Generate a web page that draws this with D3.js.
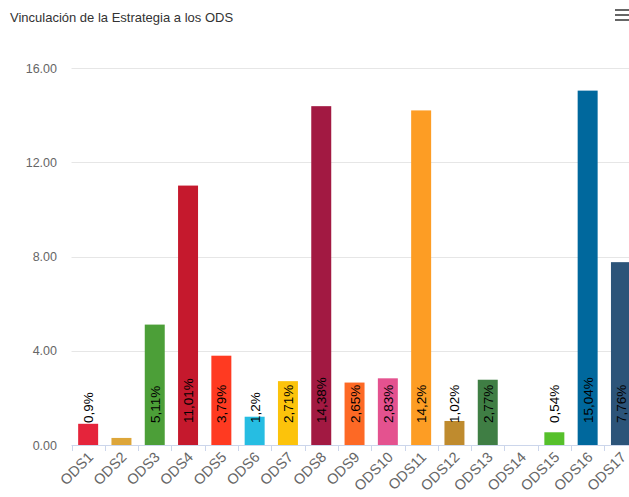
<!DOCTYPE html>
<html>
<head>
<meta charset="utf-8">
<script src="https://cdn.jsdelivr.net/npm/d3@7"></script>
<style>
  body { margin: 0; background: #fff; overflow: hidden; }
  svg { font-family: "Liberation Sans", Arial, sans-serif; display: block; }
</style>
</head>
<body>
<div id="chart"></div>
<script>
const width = 629;
const height = 497;

// Data
const categories = ["ODS1", "ODS2", "ODS3", "ODS4", "ODS5", "ODS6", "ODS7", "ODS8", "ODS9",
    "ODS10", "ODS11", "ODS12", "ODS13", "ODS14", "ODS15", "ODS16", "ODS17"];
const values = [0.9, 0.3, 5.11, 11.01, 3.79, 1.2, 2.71, 14.38, 2.65, 2.83, 14.2, 1.02, 2.77, 0, 0.54, 15.04, 7.76];
const labels = ["0,9%", "", "5,11%", "11,01%", "3,79%", "1,2%", "2,71%", "14,38%", "2,65%", "2,83%",
    "14,2%", "1,02%", "2,77%", "", "0,54%", "15,04%", "7,76%"];
const colors = ["#e5243b", "#dda63a", "#4c9f38", "#c5192d", "#ff3a21", "#26bde2", "#fcc30b", "#a21942",
    "#fd6925", "#e4528f", "#fd9d24", "#bf8b2e", "#3f7e44", "#0a97d9", "#56c02b", "#00689d", "#2c5479"];
const yTicks = [0, 4, 8, 12, 16];

const plotLeft = 71.5;
const plotTop = 68;
const plotBottom = 445;
const step = 33.3;

const svg = d3.select("#chart")
    .append("svg")
    .attr("width", width)
    .attr("height", height);

const x = d3.scaleBand()
    .domain(categories)
    .range([plotLeft, plotLeft + step * categories.length])
    .paddingInner(0.4)
    .paddingOuter(0.2);

const y = d3.scaleLinear()
    .domain([0, 16])
    .range([plotBottom, plotTop]);

// title
svg.append("text")
    .attr("x", 10)
    .attr("y", 22)
    .attr("font-size", 13)
    .attr("fill", "#333")
    .text("Vinculación de la Estrategia a los ODS");

// menu icon
[0, 1, 2].forEach((i) => {
    svg.append("rect")
        .attr("x", 615)
        .attr("y", 9 + i * 5)
        .attr("width", 14)
        .attr("height", 2)
        .attr("fill", "#666");
});

// gridlines
svg.append("g")
    .selectAll("line")
    .data(yTicks.filter((d) => d > 0))
    .enter()
    .append("line")
    .attr("x1", plotLeft)
    .attr("x2", width)
    .attr("y1", (d) => Math.round(y(d)) + 0.5)
    .attr("y2", (d) => Math.round(y(d)) + 0.5)
    .attr("stroke", "#e6e6e6");

// y axis labels
svg.append("g")
    .selectAll("text")
    .data(yTicks)
    .enter()
    .append("text")
    .attr("x", 57)
    .attr("y", (d) => y(d) + 4.5)
    .attr("text-anchor", "end")
    .attr("font-size", 12.5)
    .attr("fill", "#666")
    .text((d) => d3.format(".2f")(d));

// x axis line and ticks
svg.append("line")
    .attr("x1", plotLeft)
    .attr("x2", width)
    .attr("y1", plotBottom + 0.5)
    .attr("y2", plotBottom + 0.5)
    .attr("stroke", "#ccd6eb");

svg.append("g")
    .selectAll("line")
    .data(d3.range(categories.length + 1))
    .enter()
    .append("line")
    .attr("x1", (i) => Math.round(plotLeft + i * step) + 0.5)
    .attr("x2", (i) => Math.round(plotLeft + i * step) + 0.5)
    .attr("y1", plotBottom)
    .attr("y2", plotBottom + 6)
    .attr("stroke", "#ccd6eb");

// bars
svg.append("g")
    .selectAll("rect")
    .data(categories)
    .enter()
    .append("rect")
    .attr("x", (d) => x(d))
    .attr("y", (d, i) => y(values[i]))
    .attr("width", x.bandwidth())
    .attr("height", (d, i) => plotBottom - y(values[i]))
    .attr("fill", (d, i) => colors[i]);

// data labels, rotated
svg.append("g")
    .selectAll("text")
    .data(categories)
    .enter()
    .append("text")
    .attr("transform", (d) => `translate(${x(d) + x.bandwidth() / 2 + 5},${plotBottom - 22}) rotate(-90)`)
    .attr("font-size", 13.5)
    .attr("fill", "#000")
    .text((d, i) => labels[i]);

// category labels
svg.append("g")
    .selectAll("text")
    .data(categories)
    .enter()
    .append("text")
    .attr("transform", (d) => `translate(${x(d) + x.bandwidth() / 2 + 6},${plotBottom + 13}) rotate(-45)`)
    .attr("text-anchor", "end")
    .attr("font-size", 14.5)
    .attr("fill", "#666")
    .text((d) => d);
</script>
</body>
</html>
